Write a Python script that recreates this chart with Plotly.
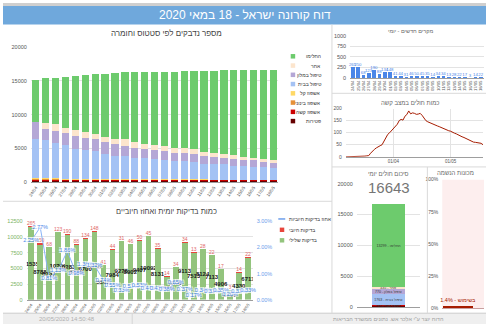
import plotly.graph_objects as go
import pandas as pd

W, H = 486, 327


def X(px):
    return px / W


def Y(py):
    return 1 - py / H


# ---------------- data ----------------
dates = ["24/04", "25/04", "26/04", "27/04", "28/04", "29/04", "30/04", "01/05", "02/05",
         "03/05", "04/05", "05/05", "06/05", "07/05", "08/05", "09/05", "10/05", "11/05",
         "12/05", "13/05", "14/05", "15/05", "16/05", "17/05", "18/05"]

deaths = [194, 199, 201, 204, 205, 210, 212, 222, 225, 229, 232, 235, 239, 240, 245, 247, 252,
          255, 260, 260, 263, 265, 268, 271, 272]
severe = [140, 137, 133, 126, 119, 112, 104, 100, 96, 91, 87, 83, 80, 76, 72, 69, 66, 62, 59,
          56, 54, 54, 52, 50, 49]
moderate = [100, 95, 90, 85, 80, 75, 70, 66, 62, 58, 54, 50, 46, 42, 40, 36, 33, 30, 28, 25, 22,
            20, 18, 16, 15]
mild = [160, 155, 150, 145, 140, 135, 130, 125, 120, 115, 110, 105, 100, 95, 90, 85, 80, 75, 70,
        65, 60, 55, 50, 45, 40]
home = [5846, 5614, 5286, 4910, 4456, 4308, 4134, 3747, 3417, 3377, 3147, 3057, 2925, 2847, 2753,
        2713, 2619, 2338, 2243, 2254, 2021, 2026, 1932, 1848, 1763]
hotel = [2420, 1700, 1790, 1830, 1800, 1760, 1800, 1690, 1680, 1530, 1520, 1470, 1410, 1350, 1200,
         1200, 1150, 1140, 1070, 940, 1030, 880, 930, 820, 770]
other = [0, 860, 950, 800, 1000, 800, 750, 750, 850, 1050, 800, 700, 750, 750, 700, 750, 700, 650,
         570, 550, 550, 400, 400, 450, 435]
recovered = [6290, 6640, 6850, 7500, 8000, 8500, 8800, 9400, 9750, 9820, 10320, 10600, 10800,
             10980, 11300, 11350, 11600, 11950, 12220, 12400, 12570, 12900, 12960, 13120, 13299]

status_names = ["פטירות", "אשפוז קשה", "אשפוז בינוני", "אשפוז קל", "טיפול בבית", "טיפול במלון",
                "אחר", "החלימו"]

tests_negative = [11535, 8788, 8332, 10709, 10283, 8776, 9700, 10800, 5500, 7984, 9278, 8902,
                  9407, 10092, 8131, 3700, 5200, 9113, 7513, 8124, 7113, 4906, 1516, 4330, 6711]
tests_positive = [265, 250, 68, 123, 190, 88, 134, 148, 41, 44, 31, 46, 50, 45, 35, 14, 34, 34,
                  13, 28, 22, 17, 3, 14, 22]
positive_pct = [2.25, 2.77, 0.81, 1.13, 1.86, 0.98, 1.36, 1.32, 0.74, 0.55, 0.33, 0.51, 0.53,
                0.44, 0.43, 0.38, 0.65, 0.37, 0.17, 0.34, 0.31, 0.35, 0.20, 0.32, 0.33]

new_cases = [265, 250, 68, 123, 190, 88, 134, 148, 41, 44, 31, 46, 50, 45, 35, 14, 34, 34, 13,
             28, 22, 17, 3, 14, 22]

severe_start = "2020-03-07"
severe_cases = [0, 0, 0, 0, 0, 1, 1, 2, 2, 3, 3, 4, 5, 15, 24, 31, 37, 40, 46, 50, 66, 80, 93,
                100, 108,
                115, 125, 135, 150, 155, 152, 168, 175, 190, 178, 182, 180, 176, 177, 180, 172,
                158, 150, 145, 141, 137, 135, 131, 128, 125, 121, 118, 115, 111, 108,
                106, 101, 98, 95, 90, 87, 83, 80, 76, 72, 68, 64, 61, 60, 59, 57, 56, 50]
severe_dates = pd.date_range(severe_start, periods=len(severe_cases)).strftime("%Y-%m-%d").tolist()

ventilators_used_pct = [1.4]

# ---------------- styles ----------------
status_colors = ["#660000", "#cc0000", "#e69138", "#ffd966", "#a4c2f4", "#b4a7d6", "#fce5cd",
                 "#6dcb6d"]
FONT = "Arial, 'Liberation Sans', 'DejaVu Sans', sans-serif"
GRID = "#e3e3e3"
TICK = "#555555"

fig = go.Figure()

status_series = [deaths, severe, moderate, mild, home, hotel, other, recovered]

# main stacked chart
for name, vals, col in zip(status_names, status_series, status_colors):
    fig.add_trace(go.Bar(x=dates, y=vals, name=name, width=0.74,
                         marker=dict(color=col, line=dict(width=0)),
                         xaxis="x", yaxis="y"))

# tests chart
fig.add_trace(go.Bar(x=dates, y=tests_negative, width=0.62,
                     marker=dict(color="#93c47d", line=dict(width=0)),
                     text=[str(v) for v in tests_negative], textposition="inside",
                     insidetextanchor="middle", textangle=0, constraintext="none",
                     textfont=dict(size=6, color="#1a1a1a", weight="bold"),
                     xaxis="x2", yaxis="y2"))
fig.add_trace(go.Bar(x=dates, y=tests_positive, width=0.62,
                     marker=dict(color="#e8453c", line=dict(width=0)),
                     text=[str(v) for v in tests_positive], textposition="outside",
                     textangle=0, constraintext="none", cliponaxis=False,
                     textfont=dict(size=5, color="#e06666"),
                     xaxis="x2", yaxis="y2"))
fig.add_trace(go.Scatter(x=dates, y=positive_pct, mode="lines+text",
                         line=dict(color="#8ab4f8", width=1),
                         text=[f"{v:.2f}%" for v in positive_pct], textposition="middle center",
                         textfont=dict(size=5.5, color="#4a86e8",
                                       shadow="1px 1px 0 #fff, -1px -1px 0 #fff, 1px -1px 0 #fff, -1px 1px 0 #fff"),
                         cliponaxis=False, xaxis="x2", yaxis="y3"))

# new cases
fig.add_trace(go.Bar(x=dates, y=new_cases, width=0.65,
                     marker=dict(color="#4a86e8", line=dict(width=0)),
                     text=[str(v) for v in new_cases], textposition="outside", textangle=0,
                     constraintext="none", cliponaxis=False,
                     textfont=dict(size=4.3, color="#4a86e8"),
                     xaxis="x3", yaxis="y4"))

# severe line
fig.add_trace(go.Scatter(x=severe_dates, y=severe_cases, mode="lines",
                         line=dict(color="#a61c00", width=1), xaxis="x4", yaxis="y5"))

# daily summary bar
for name, vals, col in zip(status_names, status_series, status_colors):
    v = vals[-1]
    fig.add_trace(go.Bar(x=[0], y=[v], width=0.52,
                         marker=dict(color=col, line=dict(width=0)),
                         text=[f"{name} - {v}"], textposition="inside",
                         insidetextanchor="middle", textangle=0, constraintext="none",
                         textfont=dict(size=3.6, color="#333"),
                         xaxis="x5", yaxis="y6"))

# ventilators
fig.add_trace(go.Bar(x=[16], y=ventilators_used_pct, width=30,
                     marker=dict(color="#a61c00", line=dict(width=0)),
                     text=[f"בשימוש - {v}%" for v in ventilators_used_pct],
                     textposition="outside", textangle=0, constraintext="none", cliponaxis=False,
                     textfont=dict(size=5.5, color="#a61c00"),
                     xaxis="x6", yaxis="y7"))

total_today = sum(s[-1] for s in status_series)


def xax(domain, anchor, **kw):
    d = dict(domain=[X(domain[0]), X(domain[1])], anchor=anchor, showgrid=False,
             zeroline=False, ticks="", tickfont=dict(size=4.5, color=TICK),
             showline=True, linecolor="#9e9e9e", linewidth=1, fixedrange=True)
    d.update(kw)
    return d


def yax(top, bottom, anchor, **kw):
    d = dict(domain=[Y(bottom), Y(top)], anchor=anchor, showgrid=True, gridcolor=GRID,
             gridwidth=1, zeroline=False, ticks="", tickfont=dict(size=5.5, color=TICK),
             showline=False, fixedrange=True, ticklabelstandoff=3, tickformat="d")
    d.update(kw)
    return d


layout = dict(
    width=W, height=H, margin=dict(l=0, r=0, t=0, b=0, pad=0),
    paper_bgcolor="white", plot_bgcolor="rgba(0,0,0,0)",
    font=dict(family=FONT, color="#444"),
    barmode="stack", showlegend=False,
    xaxis=xax((28, 277), "y", type="category", tickangle=-55, range=[-0.5, 24.5]),
    yaxis=yax(45, 182.7, "x", range=[0, 20000], dtick=5000),
    xaxis2=xax((23.8, 251.2), "y2", type="category", tickangle=-55, range=[-0.5, 24.5],
               tickfont=dict(size=4.2, color=TICK)),
    yaxis2=yax(222.3, 302.3, "x2", range=[0, 12500], dtick=2500,
               tickfont=dict(size=5.5, color="#7cb35f")),
    yaxis3=dict(domain=[Y(302.3), Y(222.3)], anchor="x2", overlaying="y2", side="right",
                range=[0, 3], dtick=1, tickformat=".2f", ticksuffix="%", showgrid=False,
                zeroline=False, ticks="", tickfont=dict(size=5.5, color="#6d9eeb"),
                fixedrange=True, ticklabelstandoff=3),
    xaxis3=xax((349.3, 483.7), "y4", type="category", tickangle=-90, range=[-0.5, 24.5],
               tickfont=dict(size=4.2, color=TICK)),
    yaxis4=yax(33.3, 76.3, "x3", range=[0, 1000], dtick=250),
    xaxis4=xax((345, 483), "y5", type="date", range=["2020-03-07", "2020-05-18"],
               tickvals=["2020-04-01", "2020-05-01"], ticktext=["01/04", "01/05"],
               showgrid=True, gridcolor=GRID, showline=True, tickfont=dict(size=4.5, color=TICK)),
    yaxis5=yax(107.5, 156.7, "x4", range=[0, 200], dtick=50, tickfont=dict(size=5, color=TICK)),
    xaxis5=xax((356, 420), "y6", range=[-0.5, 0.5], showticklabels=False),
    yaxis6=yax(184, 310, "x5", range=[0, 20000], dtick=5000, tickfont=dict(size=5.5, color=TICK)),
    xaxis6=xax((442, 484), "y7", range=[0, 42], showticklabels=False, linecolor="#c9a0a0"),
    yaxis7=yax(180, 310.7, "x6", range=[0, 100], dtick=25, ticksuffix="%", showgrid=False,
               tickfont=dict(size=5, color=TICK)),
)
fig.update_layout(**layout)

shapes = []


def rect(x0, y0, x1, y1, fill, line=None, layer="below"):
    shapes.append(dict(type="rect", xref="paper", yref="paper", x0=X(x0), x1=X(x1),
                       y0=Y(y1), y1=Y(y0), fillcolor=fill,
                       line=dict(width=0) if line is None else line, layer=layer))


def hline(x0, x1, y, color="#d9d9d9"):
    shapes.append(dict(type="line", xref="paper", yref="paper", x0=X(x0), x1=X(x1),
                       y0=Y(y), y1=Y(y), line=dict(color=color, width=1)))


def vline(x, y0, y1, color="#d9d9d9"):
    shapes.append(dict(type="line", xref="paper", yref="paper", x0=X(x), x1=X(x),
                       y0=Y(y0), y1=Y(y1), line=dict(color=color, width=1)))


rect(0, 0, 486, 3, "#cfcfcf")
rect(0, 3, 486, 22, "#6fa8dc")
rect(0, 316, 486, 327, "#efefef")
hline(0, 486, 316, "#cccccc")
vline(130, 316, 327, "#d5d5d5")
vline(331, 22, 316)
hline(0, 331, 202)
hline(331, 486, 92)
hline(331, 486, 167)
vline(427, 167, 316)
rect(442, 180, 484, 310.7, "#fdeeee")

annotations = []


def text(x, y, s, size, color="#444", xanchor="center", **kw):
    annotations.append(dict(xref="paper", yref="paper", x=X(x), y=Y(y), text=s, showarrow=False,
                            xanchor=xanchor, yanchor="middle",
                            font=dict(size=size, color=color, family=FONT), **kw))


text(243, 12.5, "דוח קורונה ישראל - 18 במאי 2020", 12, "white")
text(165, 31, "מספר נדבקים לפי סטטוס וחומרה", 8, "#444")
text(165, 212, "כמות בדיקות יומית ואחוז חיוביים", 7.5, "#444")
text(410, 29, "מקרים חדשים - יומי", 5.5, "#666")
text(410, 101.5, "כמות חולים במצב קשה", 6, "#666")
text(388, 174, "סיכום חולים יומי", 6, "#666")
text(388, 188, str(total_today), 15, "#757575")
text(455, 173.5, "מכונות הנשמה", 6, "#666")
text(64, 321.5, "20/05/2020 14:50:48", 6, "#b0b0b0")
text(388, 321.5, "הדוח יוצר ע\"י אלכר אש. נתונים ממשרד הבריאות", 5.5, "#a0a0a0")

# legend of main chart (top item first)
legend_y0, legend_step = 54.3, 9.43
for i, (name, col) in enumerate(zip(status_names[::-1], status_colors[::-1])):
    yy = legend_y0 + i * legend_step
    rect(289.5, yy - 2.3, 294, yy + 2.3, col, layer="above")
    text(322, yy, name, 5, "#333", xanchor="right")

# legend of tests chart
shapes.append(dict(type="line", xref="paper", yref="paper", x0=X(277), x1=X(284), y0=Y(220),
                   y1=Y(220), line=dict(color="#6d9eeb", width=1.5)))
text(286, 220, "אחוז בדיקות חיוביות", 5, "#333", xanchor="left")
rect(278.5, 228.8, 283, 233.3, "#e8453c", layer="above")
text(286, 231, "בדיקות חיובי", 5, "#333", xanchor="left")
rect(278.5, 239.5, 283, 244, "#93c47d", layer="above")
text(286, 241.7, "בדיקות שלילי", 5, "#333", xanchor="left")

fig.update_layout(shapes=shapes, annotations=annotations)

fig.write_html("out.html", include_plotlyjs=True, full_html=True,
               config={"displayModeBar": False, "staticPlot": True})
